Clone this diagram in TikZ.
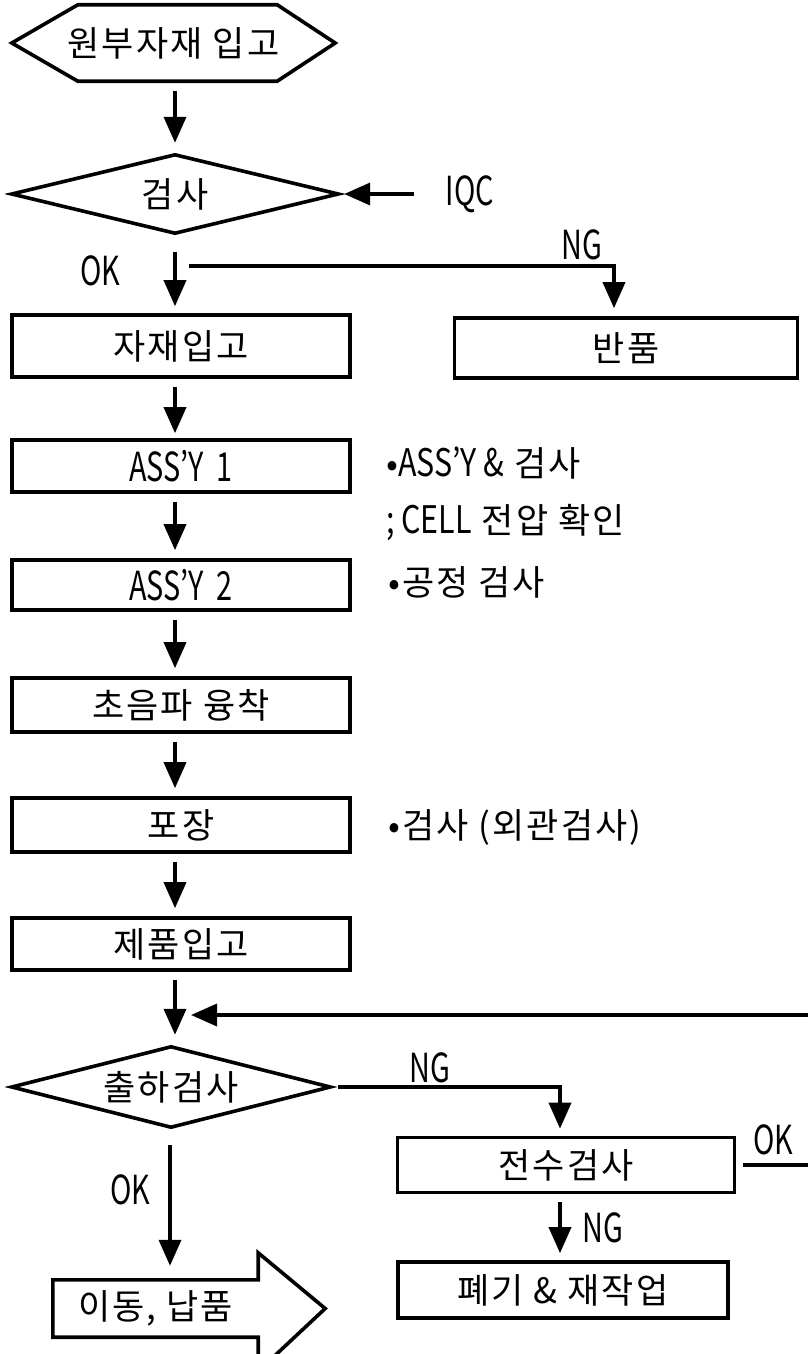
\documentclass[tikz,border=0pt]{standalone}
\usepackage{fontspec}
\usepackage{graphicx}
\setmainfont[LetterSpace=6]{Noto Sans CJK KR}
\newfontfamily\latf{Noto Sans CJK KR}
\usetikzlibrary{arrows.meta,calc}
\newcommand\kfont{\fontsize{35}{40}\selectfont}
\newcommand\lfont{\fontsize{40}{44}\selectfont}
\newcommand\nfont{\fontsize{35}{40}\selectfont}
\newcommand\nar[1]{\scalebox{0.72}[1]{\latf #1}}
\newcommand\nnar[1]{\scalebox{0.8}[1]{\latf\fontsize{38}{42}\selectfont #1}}
\begin{document}
\begin{tikzpicture}[x=1pt,y=-1pt,
  shp/.style={line width=3.6pt, line join=miter},
  ghost/.style={inner sep=0pt, font=\kfont},
  box/.style={draw, line width=3.6pt, inner sep=0pt, font=\kfont},
  arr/.style={line width=3.6pt, -{Triangle[length=26pt,width=22pt]}},
  lab/.style={font=\lfont, inner sep=0pt},
  note/.style={font=\nfont, inner sep=0pt, anchor=west}]
\useasboundingbox (0,0) rectangle (808,1354);
\coordinate (col) at (175,0);
\coordinate (col2) at (170,0);

% top hexagon
\node[ghost, minimum width=323pt, minimum height=76pt] (src) at (173.5,43) {원부자재 입고};
\draw[shp] (src.west) -- ($(src.north west)+(66,0)$) -- ($(src.north east)+(-58,0)$) -- (src.east)
  -- ($(src.south east)+(-58,0)$) -- ($(src.south west)+(66,0)$) -- cycle;

% first diamond
\node[ghost, minimum width=326pt, minimum height=78pt] (chk) at (175,194) {검사};
\draw[shp] (chk.west) -- (chk.north) -- (chk.east) -- (chk.south) -- cycle;
\draw[arr, shorten <=10pt, shorten >=12pt] (src.south -| col) -- (chk.north -| col);

\node[lab] (iqc) at (470,194) {\nar{IQC}};
\draw[arr, shorten <=32pt, shorten >=6pt] (iqc.west) -- (chk.east);

% boxes
\node[box, minimum width=338pt, minimum height=62pt] (b1) at (181,346) {자재입고};
\node[box, minimum width=343pt, minimum height=60pt] (ret) at (626,348) {반품};
\node[box, minimum width=338pt, minimum height=52pt] (b2) at (181,466) {\lfont\nar{ASS’Y\ \ 1}};
\node[box, minimum width=338pt, minimum height=50pt] (b3) at (181,585) {\lfont\nar{ASS’Y\ \ 2}};
\node[box, minimum width=338pt, minimum height=54pt] (b4) at (181,705) {초음파 융착};
\node[box, minimum width=338pt, minimum height=54pt] (b5) at (181,825) {포장};
\node[box, minimum width=338pt, minimum height=52pt] (b6) at (181,944) {제품입고};

\draw[arr, shorten <=19pt, shorten >=7pt] (chk.south -| col) -- (b1.north -| col);
\node[lab] (ok1) at (100,271) {\nar{OK}};
\coordinate (ngs) at (189,266);
\draw[arr, shorten >=8pt] (ngs) -| ([xshift=-12pt]ret.north);
\node[lab] (ng1) at (582,245) {\nar{NG}};

\draw[arr, shorten <=8pt, shorten >=5pt] (b1.south -| col) -- (b2.north -| col);
\draw[arr, shorten <=8pt, shorten >=8pt] (b2.south -| col) -- (b3.north -| col);
\draw[arr, shorten <=8pt, shorten >=8pt] (b3.south -| col) -- (b4.north -| col);
\draw[arr, shorten <=8pt, shorten >=8pt] (b4.south -| col) -- (b5.north -| col);
\draw[arr, shorten <=8pt, shorten >=8pt] (b5.south -| col) -- (b6.north -| col);

% notes
\node[note] (n1) at (386,463) {•\nnar{ASS’Y \&} 검사};
\node[note] (n2) at (386,523) {\nnar{; CELL} 전압 확인};
\node[note] (n3) at (388,582) {•공정 검사};
\node[note] (n4) at (388,827) {•검사 (외관검사)};

% shipping inspection
\node[ghost, minimum width=318pt, minimum height=80pt] (ship) at (171,1087) {출하검사};
\draw[shp] (ship.west) -- (ship.north) -- (ship.east) -- (ship.south) -- cycle;
\draw[arr, shorten <=8pt, shorten >=12pt] (b6.south -| col) -- (ship.north -| col);

\node[box, minimum width=337pt, minimum height=55pt] (tot) at (566,1165) {전수검사};
\node[box, minimum width=330pt, minimum height=56pt] (rw) at (563,1290) {폐기 \& 재작업};

\draw[arr, shorten <=8pt, shorten >=7pt] (ship.east) -| ([xshift=-6pt]tot.north);
\node[lab] (ng2) at (430,1068) {\nar{NG}};

\coordinate (fb) at (191,1015);
\draw[arr, shorten <=7pt] (tot.east) -- (812,1165) |- (fb);
\node[lab] (ok3) at (773,1140) {\nar{OK}};

\draw[arr, shorten <=8pt, shorten >=7pt] ([xshift=-6pt]tot.south) -- ([xshift=-3pt]rw.north);
\node[lab] (ng3) at (603,1228) {\nar{NG}};

% final arrow shape
\node[ghost, minimum width=205pt, minimum height=57pt] (mv) at (155.5,1308.5) {이동, 납품};
\draw[shp] (mv.north west) -- (mv.north east) -- ($(mv.north east)+(0,-27)$) -- ($(mv.east)+(67,0)$)
  -- ($(mv.south east)+(0,34)$) -- (mv.south east) -- (mv.south west) -- cycle;
\draw[arr, shorten <=18pt, shorten >=14pt] (ship.south -| col2) -- (mv.north -| col2);
\node[lab] (ok2) at (130,1190) {\nar{OK}};
\end{tikzpicture}
\end{document}
